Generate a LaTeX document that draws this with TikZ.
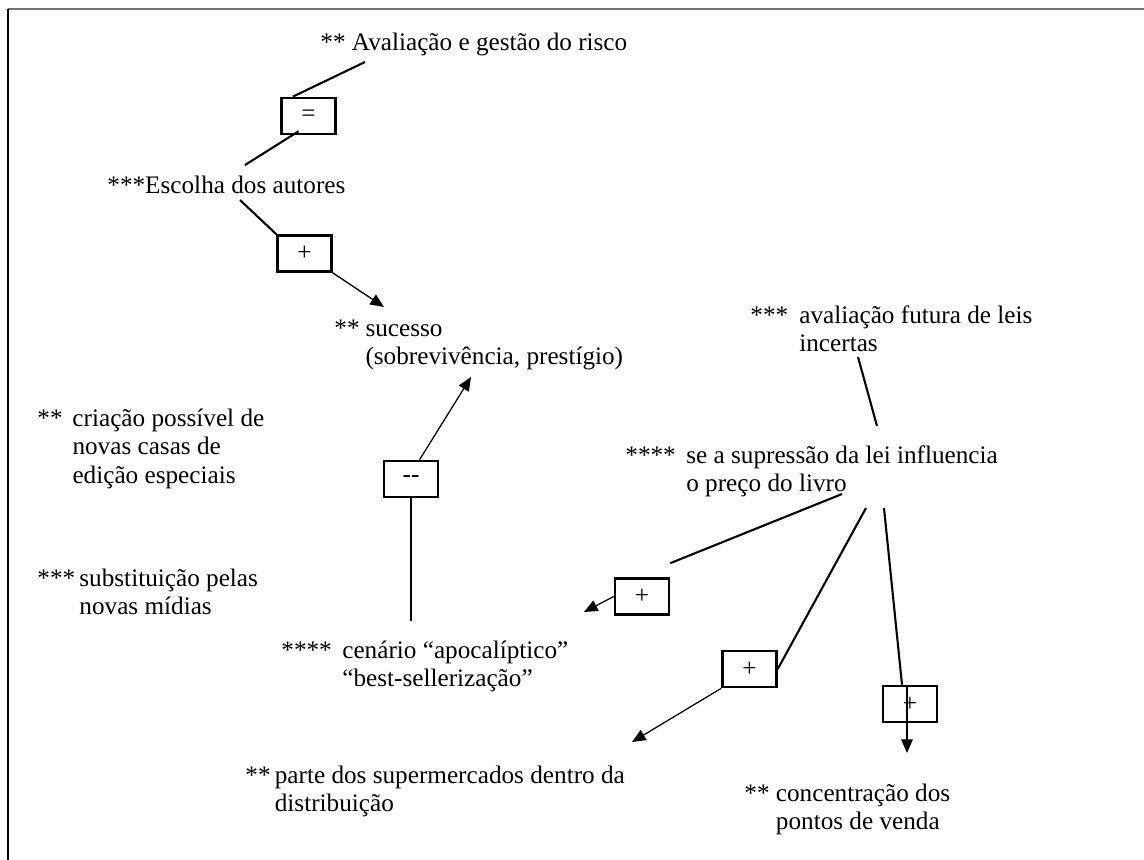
\documentclass[tikz,border=0pt]{standalone}
\usepackage{fontspec}
\setmainfont{Liberation Serif}
\usetikzlibrary{arrows.meta, calc}
\tikzstyle{signbox} = [rectangle, minimum width=25.7pt, minimum height=17.2pt, inner sep=0pt,
draw=black, line width=1.2pt, font=\fontsize{12pt}{13.8pt}\selectfont]
\tikzstyle{note} = [anchor=base west, inner sep=0pt, font=\fontsize{12pt}{13.8pt}\selectfont]
\tikzstyle{link} = [line width=1pt]
\tikzstyle{arrow} = [line width=0.6pt, -{Triangle[length=6.5pt, width=5.5pt]}]
\newcommand{\hang}[3]{\begin{tabular}[t]{@{}p{#1}@{}l@{}}#2 & #3\end{tabular}}

\begin{document}
\begin{tikzpicture}[x=0.476pt, y=-0.476pt]
    \useasboundingbox (0,0) rectangle (1144,860);

    % frame
    \draw[line width=1pt, black!55] (8,9) -- (1144,9);
    \draw[line width=1pt] (8,9) -- (8,860);

    % texts
    \node (aval) [note] at (320,50) {** Avaliação e gestão do risco};
    \node (escolha) [note] at (107,193) {***Escolha dos autores};
    \node (sucesso) [note] at (334,336) {\hang{14.8pt}{**}{sucesso\\ & (sobrevivência, prestígio)}};
    \node (criacao) [note] at (37,426) {\hang{16.7pt}{**}{criação possível de\\ & novas casas de\\ & edição especiais}};
    \node (subst) [note] at (37,586) {\hang{20pt}{***}{substituição pelas\\ & novas mídias}};
    \node (cenario) [note] at (281,658) {\hang{29pt}{****}{cenário “apocalíptico”\\ & “best-sellerização”}};
    \node (leis) [note] at (750,323) {\hang{23.3pt}{***}{avaliação futura de leis\\ & incertas}};
    \node (preco) [note] at (625,463) {\hang{29pt}{****}{se a supressão da lei influencia\\ & o preço do livro}};
    \node (super) [note] at (245,783) {\hang{14pt}{**}{parte dos supermercados dentro da\\ & distribuição}};
    \node (pontos) [note] at (744,801) {\hang{15pt}{**}{concentração dos\\ & pontos de venda}};

    % sign boxes
    \node (eqbox) [signbox] at (308.5,116) {=};
    \node (plusTop) [signbox] at (304.5,253.5) {+};
    \node (minusbox) [signbox] at (411,479) {-{}-};
    \node (plusA) [signbox] at (642,596.5) {+};
    \node (plusB) [signbox] at (749.5,669) {+};
    \node (plusC) [signbox] at (910,704) {+};

    % free ends
    \coordinate (avalEnd) at (365,62);
    \coordinate (escTop) at (245,165);
    \coordinate (escBot) at (240,200);
    \coordinate (sucTipA) at (384,307);
    \coordinate (sucTipB) at (471,377);
    \coordinate (cenTop) at (411,621);
    \coordinate (leisEnd) at (858,357);
    \coordinate (precTop) at (877,426);
    \coordinate (precA) at (842,494);
    \coordinate (precB) at (866,508);
    \coordinate (precC) at (884,508);
    \coordinate (tipA) at (584,612);
    \coordinate (tipB) at (632,742);
    \coordinate (tipC) at (907,753);

    \draw[link] (avalEnd) -- (eqbox.129);
    \draw[link] ($(eqbox.south)+(-10,-4)$) -- (escTop);
    \draw[link] (escBot) -- (plusTop.north west);
    \draw[arrow] (plusTop.south east) -- (sucTipA);
    \draw[arrow] (minusbox.66) -- (sucTipB);
    \draw[link] (minusbox.south) -- (cenTop);
    \draw[link] (leisEnd) -- (precTop);
    \draw[link] (precA) -- ($(plusA.north east)+(0,-14)$);
    \draw[arrow] (plusA.west) -- (tipA);
    \draw[link] (precB) -- (plusB.east);
    \draw[arrow] (plusB.south west) -- (tipB);
    \draw[link] (precC) -- ($(plusC.north)+(-8,0)$);
    \draw[arrow] ($(plusC.north)+(-3,0)$) -- (tipC);

\end{tikzpicture}
\end{document}
